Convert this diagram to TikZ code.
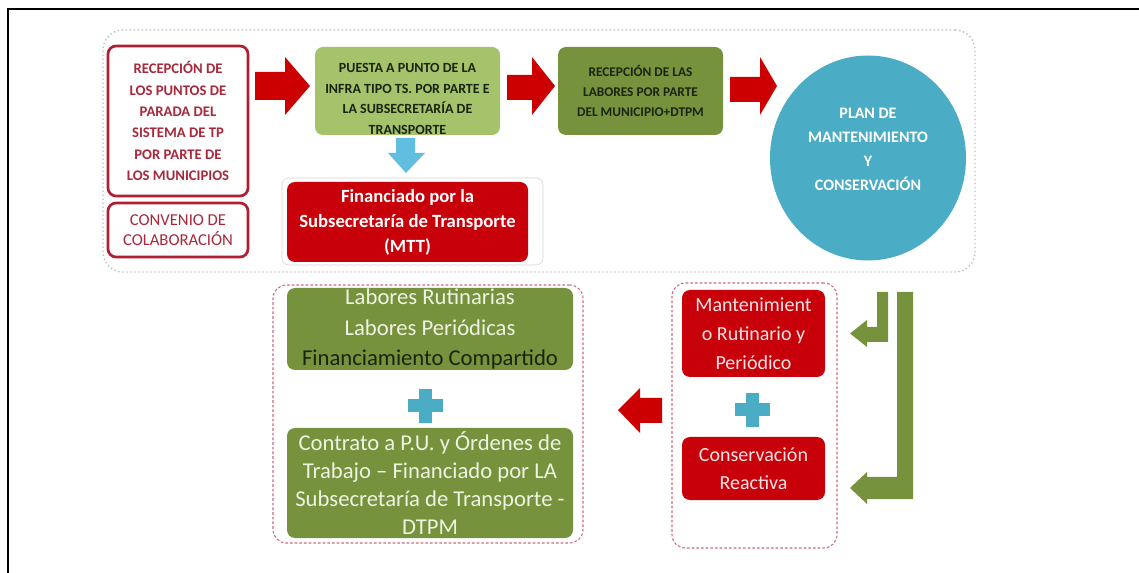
\documentclass[tikz,border=0pt]{standalone}
\usepackage{fontspec}
\setmainfont{Carlito}
\usetikzlibrary{shapes.geometric}
\definecolor{rb}{HTML}{B01E32}
\definecolor{rt}{HTML}{A8283C}
\definecolor{lg}{HTML}{A4C36A}
\definecolor{dg}{HTML}{76923C}
\definecolor{cb}{HTML}{4BACC6}
\definecolor{lblue}{HTML}{62BEE0}
\definecolor{ared}{HTML}{CC0000}
\definecolor{boxred}{HTML}{C8000A}
\definecolor{txtdark}{HTML}{1A2410}
\definecolor{lighttxt}{HTML}{EEF3E2}
\definecolor{pinktxt}{HTML}{F8E4E4}
\definecolor{dashcol}{HTML}{D06878}
\begin{document}
\begin{tikzpicture}[x=0.75pt,y=-0.75pt,
  every node/.style={inner sep=0pt, align=center},
  redout/.style={draw=rb, line width=2pt, rounded corners=6pt, fill=white, text=rt},
  greenbox/.style={rounded corners=6pt},
  redbox/.style={fill=boxred, rounded corners=6pt},
  dashbox/.style={draw=dashcol, dash pattern=on 2pt off 1.5pt, line width=0.8pt, rounded corners=10pt},
  plussign/.style={fill=cb},
  redarrow/.style={fill=ared},
  greenarrow/.style={fill=dg}]
\useasboundingbox (0,0) rectangle (1139,573);
\fill[white] (0,0) rectangle (1139,573);
\draw[line width=1.5pt] (8,573) -- (8,9) -- (1139,9);

% top container
\node[draw=gray!55, dotted, line width=1pt, rounded corners=15pt,
      minimum width=654pt, minimum height=181.5pt] (top) at (539,151) {};

% left boxes
\node[redout, font=\bfseries\fontsize{11}{16}\selectfont,
      minimum width=105pt, minimum height=112.5pt] (recep) at (178,121)
  {RECEPCIÓN DE\\LOS PUNTOS DE\\PARADA DEL\\SISTEMA DE TP\\POR PARTE DE\\LOS MUNICIPIOS};
\node[redout, font=\fontsize{12.5}{15}\selectfont,
      minimum width=105pt, minimum height=40.5pt] (conv) at (178,230)
  {CONVENIO DE\\COLABORACIÓN};

% puesta a punto
\node[greenbox, fill=lg, minimum width=138.75pt, minimum height=66pt] (puesta) at (407.5,91) {};
\node[font=\bfseries\fontsize{10.5}{15.5}\selectfont, text=txtdark] (puestaT) at (407.5,99)
  {PUESTA A PUNTO DE LA\\INFRA TIPO TS. POR PARTE E\\LA SUBSECRETARÍA DE\\TRANSPORTE};

% recepcion labores
\node[greenbox, fill=dg, minimum width=123.75pt, minimum height=66pt,
      font=\bfseries\fontsize{10}{15}\selectfont, text=txtdark] (reclab) at (640.5,91)
  {RECEPCIÓN DE LAS\\LABORES POR PARTE\\DEL MUNICIPIO+DTPM};

% plan circle
\node[ellipse, fill=cb, minimum width=147pt, minimum height=153.75pt] (plan) at (868,158) {};
\node[font=\bfseries\fontsize{12}{18}\selectfont, text=white] (planT) at (868,149)
  {PLAN DE\\MANTENIMIENTO\\Y\\CONSERVACIÓN};

% financiado
\node[draw=gray!35, rounded corners=5pt, minimum width=195.75pt, minimum height=65.25pt] (finO) at (412.5,221.5) {};
\node[redbox, minimum width=180.75pt, minimum height=60pt, text=white,
      font=\bfseries\fontsize{14}{18.75}\selectfont] (fin) at (407.5,222)
  {Financiado por la\\Subsecretaría de Transporte\\(MTT)};

% top arrows
\fill[redarrow] (255,72) -- (285,72) -- (285,57) -- (310,86) -- (285,115) -- (285,100) -- (255,100) -- cycle;
\fill[redarrow] (507,75) -- (532,75) -- (532,57) -- (555,86) -- (532,115) -- (532,100) -- (507,100) -- cycle;
\fill[redarrow] (730,77) -- (760,77) -- (760,57) -- (777,86) -- (760,115) -- (760,102) -- (730,102) -- cycle;
\fill[lblue] (396,138) -- (415,138) -- (415,153) -- (425,153) -- (406,173) -- (388,153) -- (396,153) -- cycle;

% bottom containers
\node[dashbox, minimum width=232.5pt, minimum height=193.5pt] (leftgrp) at (428,414) {};
\node[dashbox, minimum width=123.75pt, minimum height=198.75pt] (rightgrp) at (754.5,415.5) {};

% bottom left boxes
\node[greenbox, fill=dg, minimum width=214.5pt, minimum height=61.5pt, text=lighttxt,
      font=\fontsize{17}{23}\selectfont] (labores) at (430,329)
  {Labores Rutinarias\\Labores Periódicas\\{\color{txtdark}Financiamiento Compartido}};
\node[greenbox, fill=dg, minimum width=214.5pt, minimum height=82.5pt, text=lighttxt,
      font=\fontsize{17}{21}\selectfont] (contrato) at (430,483)
  {Contrato a P.U. y Órdenes de\\Trabajo – Financiado por LA\\Subsecretaría de Transporte -\\DTPM};
\fill[plussign] (407.5,399.5) rectangle (442.5,412.5);
\fill[plussign] (418.5,389) rectangle (431.5,423);

% bottom right boxes
\node[redbox, minimum width=107.25pt, minimum height=65.25pt, text=pinktxt,
      font=\fontsize{15}{21.75}\selectfont] (mant) at (753.5,333.5)
  {Mantenimient\\o Rutinario y\\Periódico};
\node[redbox, minimum width=107.25pt, minimum height=47.25pt, text=pinktxt,
      font=\fontsize{15}{21}\selectfont] (cons) at (753.5,468.5)
  {Conservación\\Reactiva};
\fill[plussign] (735,403.5) rectangle (770,416.5);
\fill[plussign] (746,393) rectangle (759,427);

% red left arrow
\fill[redarrow] (662,398) -- (640,398) -- (640,388) -- (618,410) -- (640,433) -- (640,423) -- (662,423) -- cycle;

% green bent arrows
\fill[greenarrow] (877,292) -- (888,292) -- (888,342) -- (867,342) -- (867,347) -- (850,333.5) -- (867,320) -- (867,327) -- (877,327) -- cycle;
\fill[greenarrow] (897,292) -- (913,292) -- (913,499) -- (867,499) -- (867,504) -- (850,488) -- (867,472) -- (867,477) -- (897,477) -- cycle;
\end{tikzpicture}
\end{document}
